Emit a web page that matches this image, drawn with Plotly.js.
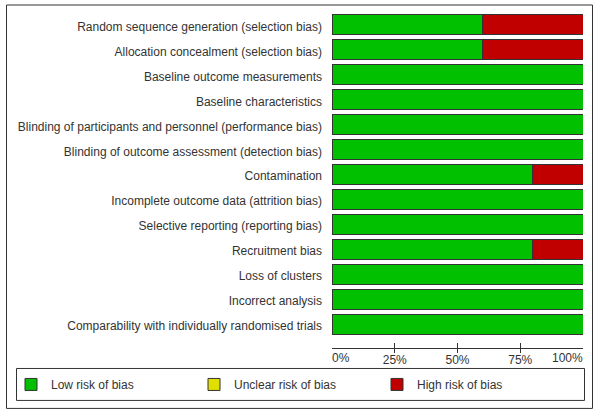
<!DOCTYPE html>
<html>
<head>
<meta charset="utf-8">
<script src="https://cdn.plot.ly/plotly-3.0.1.min.js"></script>
<style>html,body{margin:0;padding:0;background:#fff;}#chart{width:598px;height:418px;}</style>
</head>
<body>
<div id="chart"></div>
<script>
const categories = [
  "Random sequence generation (selection bias)",
  "Allocation concealment (selection bias)",
  "Baseline outcome measurements",
  "Baseline characteristics",
  "Blinding of participants and personnel (performance bias)",
  "Blinding of outcome assessment (detection bias)",
  "Contamination",
  "Incomplete outcome data (attrition bias)",
  "Selective reporting (reporting bias)",
  "Recruitment bias",
  "Loss of clusters",
  "Incorrect analysis",
  "Comparability with individually randomised trials"
];
const lowRisk     = [60, 60, 100, 100, 100, 100, 80, 100, 100, 80, 100, 100, 100];
const unclearRisk = [0, 0, 0, 0, 0, 0, 0, 0, 0, 0, 0, 0, 0];
const highRisk    = [40, 40, 0, 0, 0, 0, 20, 0, 0, 20, 0, 0, 0];
const tickVals = [0, 25, 50, 75, 100];
const tickText = ["0%", "25%", "50%", "75%", "100%"];
const seriesNames = ["Low risk of bias", "Unclear risk of bias", "High risk of bias"];

const colors = ["#00C000", "#E0E000", "#C00000"];
const W = 598, H = 418;
const M = {l: 332, r: 15, t: 11.5, b: 70, autoexpand: false};
const pw = W - M.l - M.r, ph = H - M.t - M.b;
const px = x => (x - M.l) / pw;
const py = y => (H - M.b - y) / ph;
const textColor = "#333333";
const font = {family: "Liberation Sans, Arial, sans-serif", size: 12, color: textColor};

const series = [lowRisk, unclearRisk, highRisk];
const traces = series.map((vals, i) => ({
  type: "bar",
  orientation: "h",
  name: seriesNames[i],
  x: vals,
  y: categories,
  width: 0.8,
  cliponaxis: false,
  marker: {color: colors[i], line: {color: "#333333", width: 1}},
  hoverinfo: "x+y"
}));
traces.push({type: "scatter", x: [], y: [], xaxis: "x2", yaxis: "y", showlegend: false, hoverinfo: "skip"});

const annotations = [0, tickVals.length - 1].map(i => ({
  x: tickVals[i], xref: "x", y: py(358.5), yref: "paper",
  text: tickText[i], showarrow: false,
  xanchor: i === 0 ? "left" : "right", yanchor: "middle",
  xshift: i === 0 ? -2 : 2,
  font: font
}));

const layout = {
  width: W, height: H,
  margin: M,
  paper_bgcolor: "#fff", plot_bgcolor: "#fff",
  font: font,
  barmode: "stack",
  showlegend: true,
  legend: {
    orientation: "h",
    x: px(11), xanchor: "left",
    y: py(384.5), yanchor: "middle",
    entrywidth: 138, entrywidthmode: "pixels",
    bgcolor: "rgba(0,0,0,0)", borderwidth: 0,
    traceorder: "normal",
    font: font
  },
  xaxis: {
    range: [0, 100], fixedrange: true,
    showgrid: false, zeroline: false,
    showline: true, linecolor: "#333333", linewidth: 1,
    tickmode: "array", tickvals: tickVals.slice(1, -1), ticktext: tickText.slice(1, -1),
    ticks: "outside", ticklen: 4, tickcolor: "#333333", tickwidth: 1,
    ticklabelstandoff: -3,
    tickfont: font
  },
  xaxis2: {
    overlaying: "x", anchor: "y", side: "bottom",
    range: [0, 100], fixedrange: true,
    showgrid: false, zeroline: false, showline: false,
    tickmode: "array", tickvals: tickVals, showticklabels: false,
    ticks: "inside", ticklen: 5, tickcolor: "#333333", tickwidth: 1
  },
  yaxis: {
    type: "category", categoryorder: "array", categoryarray: categories,
    range: [12.5 + (ph - 13 * 25) / 25, -0.5], fixedrange: true,
    showgrid: false, zeroline: false, showline: false,
    ticks: "", ticklabelstandoff: 9, ticklabelshift: -2,
    tickfont: font
  },
  annotations: annotations,
  shapes: [
    {type: "rect", xref: "paper", yref: "paper",
     x0: px(6.5), x1: px(592.5), y0: py(408.5), y1: py(4.5),
     line: {color: "#333333", width: 1}, fillcolor: "rgba(0,0,0,0)", layer: "below"},
    {type: "rect", xref: "paper", yref: "paper",
     x0: px(16.5), x1: px(584.5), y0: py(400.5), y1: py(368.5),
     line: {color: "#333333", width: 1}, fillcolor: "rgba(0,0,0,0)", layer: "below"}
  ]
};

Plotly.newPlot("chart", traces, layout, {displayModeBar: false, staticPlot: true});
</script>
</body>
</html>
